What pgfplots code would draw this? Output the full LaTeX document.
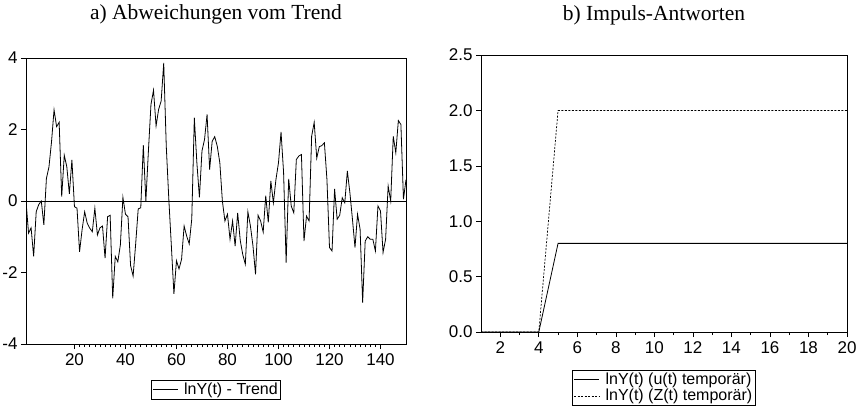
\documentclass[border=0pt]{standalone}
\usepackage{fontspec}
\setmainfont{Liberation Serif}
\setsansfont{Liberation Sans}
\usepackage{pgfplots}
\pgfplotsset{compat=1.18}
\begin{document}
\begin{tikzpicture}[x=1pt,y=1pt]
\useasboundingbox (0,0) rectangle (858,410);
\pgfplotsset{
  every axis/.append style={
    scale only axis,
    anchor=south west,
    axis line style={line width=0.8pt},
    tick align=outside,
    xtick pos=bottom, ytick pos=left,
    major tick length=5pt, minor tick length=3pt,
    every tick/.style={black, line width=0.6pt},
    /pgf/number format/assume math mode=true,
    ticklabel style={font=\sffamily\fontsize{17}{17}\selectfont},
    xticklabel style={yshift=-1pt},
    title style={font=\rmfamily\fontsize{21.5}{23}\selectfont, anchor=base, at={(0.5,1)}},
    legend style={draw=black, line width=0.6pt, font=\sffamily\fontsize{16}{17}\selectfont,
      at={(0.5,0)}, anchor=north, cells={anchor=west}, inner sep=1pt, row sep=-1pt, column sep=4pt},
    legend image code/.code={\draw[#1] (0pt,0pt) -- (25pt,0pt);},
  }
}
\begin{axis}[
  at={(26pt,66pt)}, width=380pt, height=286pt,
  xmin=1, xmax=150, ymin=-4, ymax=4,
  xtick={20,40,...,140}, minor x tick num=9,
  ytick={-4,-2,0,2,4},
  title={a) Abweichungen vom Trend},
  title style={yshift=32pt},
  legend style={yshift=-36pt},
]
\addplot[forget plot, black, line width=0.7pt] coordinates {(1,0) (150,0)};
\addplot[black, line width=0.8pt] coordinates {
(1,0.0)(2,-0.9)(3,-0.75)(4,-1.55)(5,-0.3)(6,-0.1)(7,0.0)(8,-0.67)(9,0.63)(10,0.95)
(11,1.65)(12,2.55)(13,2.08)(14,2.2)(15,0.12)(16,1.28)(17,0.96)(18,0.2)(19,1.15)(20,-0.16)
(21,-0.2)(22,-1.42)(23,-0.8)(24,-0.3)(25,-0.62)(26,-0.76)(27,-0.86)(28,-0.2)(29,-0.95)(30,-0.75)
(31,-0.7)(32,-1.6)(33,-0.44)(34,-0.4)(35,-2.72)(36,-1.55)(37,-1.7)(38,-1.23)(39,0.1)(40,-0.37)
(41,-0.44)(42,-1.8)(43,-2.1)(44,-1.2)(45,-0.22)(46,-0.19)(47,1.56)(48,0.0)(49,1.4)(50,2.7)
(51,3.1)(52,2.1)(53,2.56)(54,2.8)(55,3.86)(56,1.53)(57,0.05)(58,-1.26)(59,-2.6)(60,-1.67)
(61,-1.9)(62,-1.63)(63,-0.7)(64,-0.98)(65,-1.2)(66,-0.5)(67,2.33)(68,1.07)(69,0.1)(70,1.4)
(71,1.72)(72,2.42)(73,0.88)(74,1.67)(75,1.8)(76,1.53)(77,1.07)(78,0.0)(79,-0.56)(80,-0.37)
(81,-1.07)(82,-0.56)(83,-1.26)(84,-0.33)(85,-1.1)(86,-1.5)(87,-1.77)(88,-0.3)(89,-0.7)(90,-1.26)
(91,-2.05)(92,-0.4)(93,-0.56)(94,-0.87)(95,0.15)(96,-0.6)(97,0.56)(98,-0.05)(99,0.6)(100,1.07)
(101,1.93)(102,0.8)(103,-1.72)(104,0.62)(105,-0.14)(106,-0.33)(107,1.16)(108,1.26)(109,1.3)(110,-1.12)
(111,-0.42)(112,-0.56)(113,1.81)(114,2.2)(115,1.2)(116,1.52)(117,1.55)(118,1.63)(119,0.6)(120,-1.3)
(121,-1.4)(122,0.34)(123,-0.51)(124,-0.4)(125,0.09)(126,-0.05)(127,0.84)(128,0.23)(129,-0.51)(130,-1.3)
(131,-0.37)(132,-0.79)(133,-2.84)(134,-1.12)(135,-1.0)(136,-1.07)(137,-1.07)(138,-1.4)(139,-0.14)(140,-0.28)
(141,-1.44)(142,-1.07)(143,0.42)(144,0.0)(145,1.81)(146,1.35)(147,2.25)(148,2.14)(149,0.05)(150,0.6)
};
\addlegendentry{lnY(t) - Trend}
\end{axis}
\begin{axis}[
  at={(481pt,78pt)}, width=366pt, height=277pt,
  xmin=1, xmax=20, ymin=0, ymax=2.5,
  xtick={2,4,...,20}, minor x tick num=1,
  ytick={0,0.5,...,2.5},
  yticklabel style={/pgf/number format/.cd, fixed, fixed zerofill, precision=1},
  title={b) Impuls-Antworten},
  title style={xshift=-10pt, yshift=29pt},
  legend style={yshift=-38pt},
]
\addplot[black, line width=0.8pt] coordinates {
(1,0)(2,0)(3,0)(4,0)(5,0.8)(6,0.8)(7,0.8)(8,0.8)(9,0.8)(10,0.8)(11,0.8)(12,0.8)(13,0.8)(14,0.8)(15,0.8)(16,0.8)(17,0.8)(18,0.8)(19,0.8)(20,0.8)};
\addlegendentry{lnY(t) (u(t) temporär)}
\addplot[black, line width=0.7pt, dash pattern=on 2pt off 1.5pt] coordinates {
(1,0)(2,0)(3,0)(4,0)(5,2.0)(6,2.0)(7,2.0)(8,2.0)(9,2.0)(10,2.0)(11,2.0)(12,2.0)(13,2.0)(14,2.0)(15,2.0)(16,2.0)(17,2.0)(18,2.0)(19,2.0)(20,2.0)};
\addlegendentry{lnY(t) (Z(t) temporär)}
\end{axis}
\end{tikzpicture}
\end{document}
